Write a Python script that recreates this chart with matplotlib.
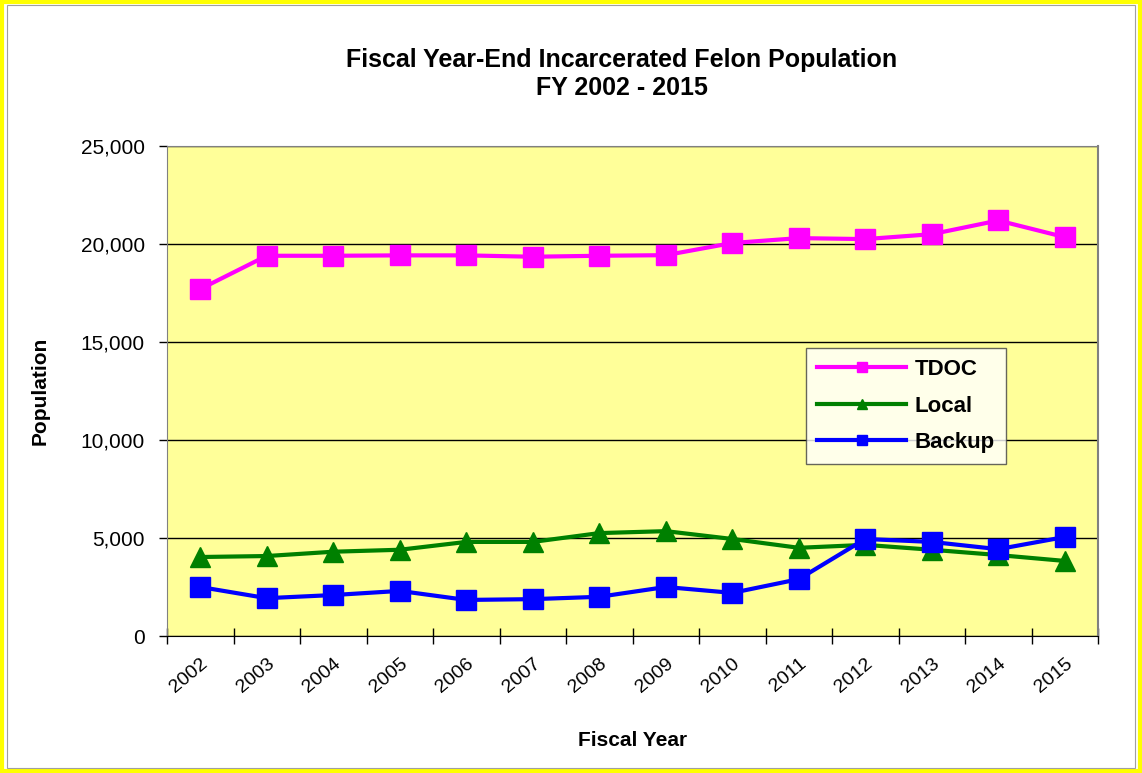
import numpy as np
import matplotlib.pyplot as plt
from matplotlib.patches import Rectangle
from matplotlib.ticker import FuncFormatter

plt.rcParams['font.family'] = ['Liberation Sans', 'DejaVu Sans']

years = ['2002', '2003', '2004', '2005', '2006', '2007', '2008',
         '2009', '2010', '2011', '2012', '2013', '2014', '2015']
tdoc = [17700, 19400, 19400, 19420, 19420, 19350, 19400,
        19430, 20050, 20300, 20250, 20500, 21200, 20350]
local = [4030, 4080, 4300, 4400, 4800, 4800, 5250,
         5350, 4950, 4500, 4650, 4400, 4130, 3830]
backup = [2500, 1930, 2090, 2300, 1840, 1880, 2000,
          2500, 2200, 2900, 4950, 4800, 4430, 5050]

fig = plt.figure(figsize=(11.42, 7.73), dpi=100)
ax = fig.add_axes([167/1142, 1-636/773, (1098-167)/1142, (636-146)/773])
ax.set_facecolor('#FFFF99')

x = np.arange(len(years))
ax.plot(x, tdoc, color='#FF00FF', lw=3, marker='s', ms=14, label='TDOC')
ax.plot(x, local, color='#008000', lw=3, marker='^', ms=15, label='Local')
ax.plot(x, backup, color='#0000FF', lw=3, marker='s', ms=14, label='Backup')

ax.set_xlim(-0.5, len(years)-0.5)
ax.set_ylim(0, 25000)
ax.set_yticks(np.arange(0, 25001, 5000))
ax.yaxis.set_major_formatter(FuncFormatter(lambda v, p: f'{int(v):,}'))
ax.yaxis.grid(True, color='black', lw=1)
ax.set_axisbelow(True)

ax.set_xticks(x)
ax.set_xticklabels(years, rotation=40, ha='right', rotation_mode='anchor', fontsize=14)
ax.set_xticks(np.arange(-0.5, len(years)), minor=True)
ax.tick_params(axis='x', which='major', length=0, pad=14)
ax.tick_params(axis='x', which='minor', direction='inout', length=12, width=1)
ax.tick_params(axis='y', labelsize=15, length=6, width=1, pad=10)

for s in ['left', 'top', 'right']:
    ax.spines[s].set_color('#808080')
ax.spines['bottom'].set_color('black')
ax.spines['right'].set_linewidth(1.5)

ax.set_xlabel('Fiscal Year', fontsize=15, fontweight='bold')
ax.xaxis.set_label_coords(0.5, (636-731)/490)
ax.set_ylabel('Population', fontsize=15, fontweight='bold')
ax.yaxis.set_label_coords((50-167)/931, 0.5)

fig.text(622/1142, 1-60/773, 'Fiscal Year-End Incarcerated Felon Population',
         ha='center', va='center', fontsize=18, fontweight='bold')
fig.text(622/1142, 1-88/773, 'FY 2002 - 2015',
         ha='center', va='center', fontsize=18, fontweight='bold')

leg = ax.legend(loc='upper left', bbox_to_anchor=((806-167)/931, 1-(348-146)/490),
                frameon=True, fancybox=False, edgecolor='#404040',
                prop={'weight': 'bold', 'size': 16}, borderpad=0.5,
                labelspacing=0.7, handlelength=4, handletextpad=0.4,
                markerscale=0.5, borderaxespad=0)
leg.get_frame().set_linewidth(1)

fig.patches.append(Rectangle((0.002, 0.002), 0.996, 0.996, transform=fig.transFigure,
                             fill=False, edgecolor='#FFFF00', lw=3))
fig.patches.append(Rectangle((0.006, 0.006), 0.988, 0.988, transform=fig.transFigure,
                             fill=False, edgecolor='#A0A0A0', lw=0.8))

fig.savefig('out.png', dpi=100)
